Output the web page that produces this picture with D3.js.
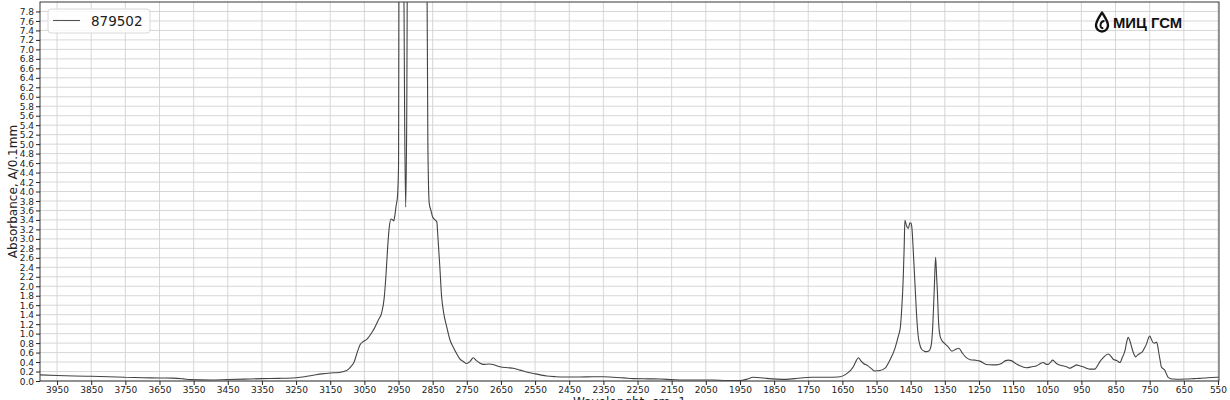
<!DOCTYPE html>
<html><head><meta charset="utf-8">
<script src="https://cdn.jsdelivr.net/npm/d3@7"></script>
<style>
html,body{margin:0;padding:0;background:#fff;}
svg{display:block;font-family:"DejaVu Sans",sans-serif;}
</style></head>
<body>
<svg id="chart" width="1230" height="400"></svg>
<script>
const seriesName = "879502";
const wavenumbers = [4000,3950,3900,3850,3800,3750,3700,3650,3610,3580,3560,3500,3450,3400,3350,3300,3250,3225,3200,3175,3150,3125,3110,3100,3090,3080,3072,3063,3052,3043,3035,3024,3009,2999,2992,2987,2982,2977,2972,2967,2964,2961,2957,2953,2950,2948,2936,2932,2929,2926,2923,2868,2864,2860,2855,2850,2843,2838,2834,2829,2824,2818,2809,2799,2790,2780,2770,2760,2751,2741,2731,2722,2712,2702,2685,2673,2653,2630,2614,2594,2575,2555,2535,2516,2490,2460,2419,2380,2350,2321,2290,2263,2220,2184,2150,2116,2070,2028,1990,1950,1931,1911,1890,1872,1840,1813,1790,1765,1740,1716,1690,1657,1638,1618,1610,1603,1595,1588,1575,1565,1555,1540,1525,1511,1496,1486,1480,1477,1472,1469,1467,1462,1457,1452,1449,1446,1443,1438,1433,1428,1423,1418,1410,1404,1396,1390,1386,1381,1377,1374,1372,1368,1364,1359,1350,1340,1329,1318,1309,1298,1288,1275,1262,1247,1228,1210,1199,1184,1172,1164,1155,1145,1130,1111,1095,1081,1070,1062,1052,1047,1040,1034,1025,1018,1004,990,984,972,964,955,945,935,926,911,904,896,885,872,863,857,846,837,830,822,818,813,808,803,797,791,785,779,771,765,759,754,750,745,740,735,730,726,723,719,716,711,706,701,696,690,682,660,642,620,603,580,554,548];
const absorbance = [0.13,0.115,0.105,0.10,0.09,0.08,0.07,0.063,0.06,0.045,0.03,0.02,0.03,0.04,0.05,0.055,0.07,0.09,0.12,0.15,0.17,0.18,0.20,0.23,0.30,0.40,0.58,0.76,0.84,0.88,0.95,1.07,1.29,1.45,1.75,2.2,2.8,3.25,3.42,3.40,3.38,3.48,3.70,3.90,4.5,10,10,5.5,3.67,5.5,10,10,5,3.75,3.6,3.46,3.40,3.36,2.97,2.41,1.80,1.45,1.15,0.86,0.72,0.58,0.46,0.41,0.37,0.41,0.49,0.43,0.38,0.35,0.36,0.35,0.30,0.28,0.27,0.23,0.19,0.16,0.13,0.105,0.09,0.083,0.084,0.09,0.09,0.078,0.065,0.05,0.045,0.042,0.03,0.02,0.02,0.02,0.01,0.01,0.035,0.078,0.07,0.056,0.04,0.035,0.05,0.07,0.08,0.078,0.08,0.09,0.15,0.30,0.42,0.49,0.42,0.37,0.32,0.26,0.21,0.22,0.27,0.44,0.69,0.95,1.15,1.43,2.13,2.83,3.39,3.27,3.22,3.34,3.33,3.20,2.83,2.13,1.43,0.95,0.76,0.67,0.63,0.62,0.64,0.75,1.07,1.92,2.61,2.2,1.92,1.2,0.95,0.86,0.79,0.72,0.63,0.67,0.69,0.58,0.50,0.45,0.44,0.42,0.35,0.34,0.34,0.37,0.43,0.44,0.43,0.38,0.32,0.28,0.30,0.32,0.37,0.39,0.35,0.35,0.40,0.44,0.38,0.35,0.32,0.29,0.27,0.31,0.34,0.32,0.30,0.27,0.25,0.25,0.31,0.41,0.50,0.57,0.52,0.46,0.43,0.39,0.50,0.65,0.80,0.92,0.85,0.72,0.58,0.51,0.55,0.58,0.62,0.70,0.79,0.90,0.95,0.88,0.81,0.80,0.82,0.72,0.58,0.42,0.30,0.26,0.23,0.15,0.078,0.055,0.042,0.038,0.042,0.05,0.056,0.07,0.078,0.078];
const xTicks = d3.range(3950, 549, -100);
const yTicks = d3.range(0, 39.5, 1).map(i => +(i * 0.2).toFixed(1));
const xLabel = "Wavelenght, cm -1";
const yLabel = "Absorbance, A/0.1mm";
const logoText = "МИЦ ГСМ";

const data = wavenumbers.map((w, i) => ({w, a: absorbance[i]}));

const svg = d3.select("#chart");
const L = 40, R = 1219, T = 2, B = 381;
const x = d3.scaleLinear().domain([4000, 547]).range([L, R]);
const y = d3.scaleLinear().domain([0, 8]).range([B, T]);

// grid
const grid = svg.append("g");
grid.selectAll(".gx").data(xTicks).join("line")
  .attr("x1", d => x(d)).attr("x2", d => x(d)).attr("y1", T).attr("y2", B)
  .attr("stroke", "#d2d2d2").attr("stroke-width", 0.9);
grid.selectAll(".gy").data(yTicks).join("line")
  .attr("x1", L).attr("x2", R).attr("y1", d => y(d)).attr("y2", d => y(d))
  .attr("stroke", "#d2d2d2").attr("stroke-width", 0.9);

// axes
const xAxis = svg.append("g").attr("transform", `translate(0,${B})`)
  .call(d3.axisBottom(x).tickValues(xTicks).tickFormat(d3.format("d")).tickSize(4).tickPadding(2));
const yAxis = svg.append("g").attr("transform", `translate(${L},0)`)
  .call(d3.axisLeft(y).tickValues(yTicks).tickFormat(d3.format(".1f")).tickSize(4).tickPadding(2));
[xAxis, yAxis].forEach(g => {
  g.select(".domain").remove();
  g.selectAll("text").attr("font-family", "DejaVu Sans").attr("font-size", 9).attr("fill", "#222");
  g.selectAll("line").attr("stroke", "#222");
});
yAxis.selectAll("text").attr("dy", "0.34em");

// frame
svg.append("rect").attr("x", L).attr("y", T).attr("width", R - L).attr("height", B - T)
  .attr("fill", "none").attr("stroke", "#222").attr("stroke-width", 0.9);

// clip + line
svg.append("clipPath").attr("id", "clip").append("rect")
  .attr("x", L).attr("y", T).attr("width", R - L).attr("height", B - T);
const line = d3.line().x(d => x(d.w)).y(d => y(d.a)).curve(d3.curveMonotoneX);
svg.append("path").datum(data).attr("clip-path", "url(#clip)")
  .attr("d", line).attr("fill", "none").attr("stroke", "#444").attr("stroke-width", 1.1);

// labels
svg.append("text").attr("x", (L + R) / 2).attr("y", 405.5).attr("text-anchor", "middle")
  .attr("font-size", 12).attr("fill", "#222").text(xLabel);
svg.append("text").attr("transform", `translate(17,${(T + B) / 2}) rotate(-90)`)
  .attr("text-anchor", "middle").attr("font-size", 12).attr("fill", "#222").text(yLabel);

// legend
const lg = svg.append("g");
lg.append("rect").attr("x", 48).attr("y", 9).attr("width", 102).attr("height", 24).attr("rx", 3)
  .attr("fill", "#fff").attr("fill-opacity", 0.85).attr("stroke", "#d8d8d8");
lg.append("line").attr("x1", 53).attr("x2", 80).attr("y1", 20.5).attr("y2", 20.5)
  .attr("stroke", "#555").attr("stroke-width", 1.1);
lg.append("text").attr("x", 91).attr("y", 26).attr("font-size", 13.5).attr("fill", "#222").text(seriesName);

// logo
const logo = svg.append("g");
logo.append("path").attr("d", "M1102,12.5 C1099,17.5 1096,21.5 1096,25.5 A6,6 0 0 0 1108,25.5 C1108,21.5 1105,17.5 1102,12.5 Z")
  .attr("fill", "none").attr("stroke", "#111").attr("stroke-width", 2.4).attr("stroke-linejoin", "round");
logo.append("path").attr("d", "M1103.8,21 C1100,22 1099.3,27.5 1102.6,28.2")
  .attr("fill", "none").attr("stroke", "#111").attr("stroke-width", 1.9).attr("stroke-linecap", "round");
logo.append("text").attr("x", 1113).attr("y", 27.5).attr("font-family", "Liberation Sans, Arial, sans-serif")
  .attr("font-weight", "bold").attr("font-size", 14.5).attr("textLength", 69).attr("lengthAdjust", "spacingAndGlyphs")
  .attr("fill", "#111").text(logoText);
</script>
</body></html>
